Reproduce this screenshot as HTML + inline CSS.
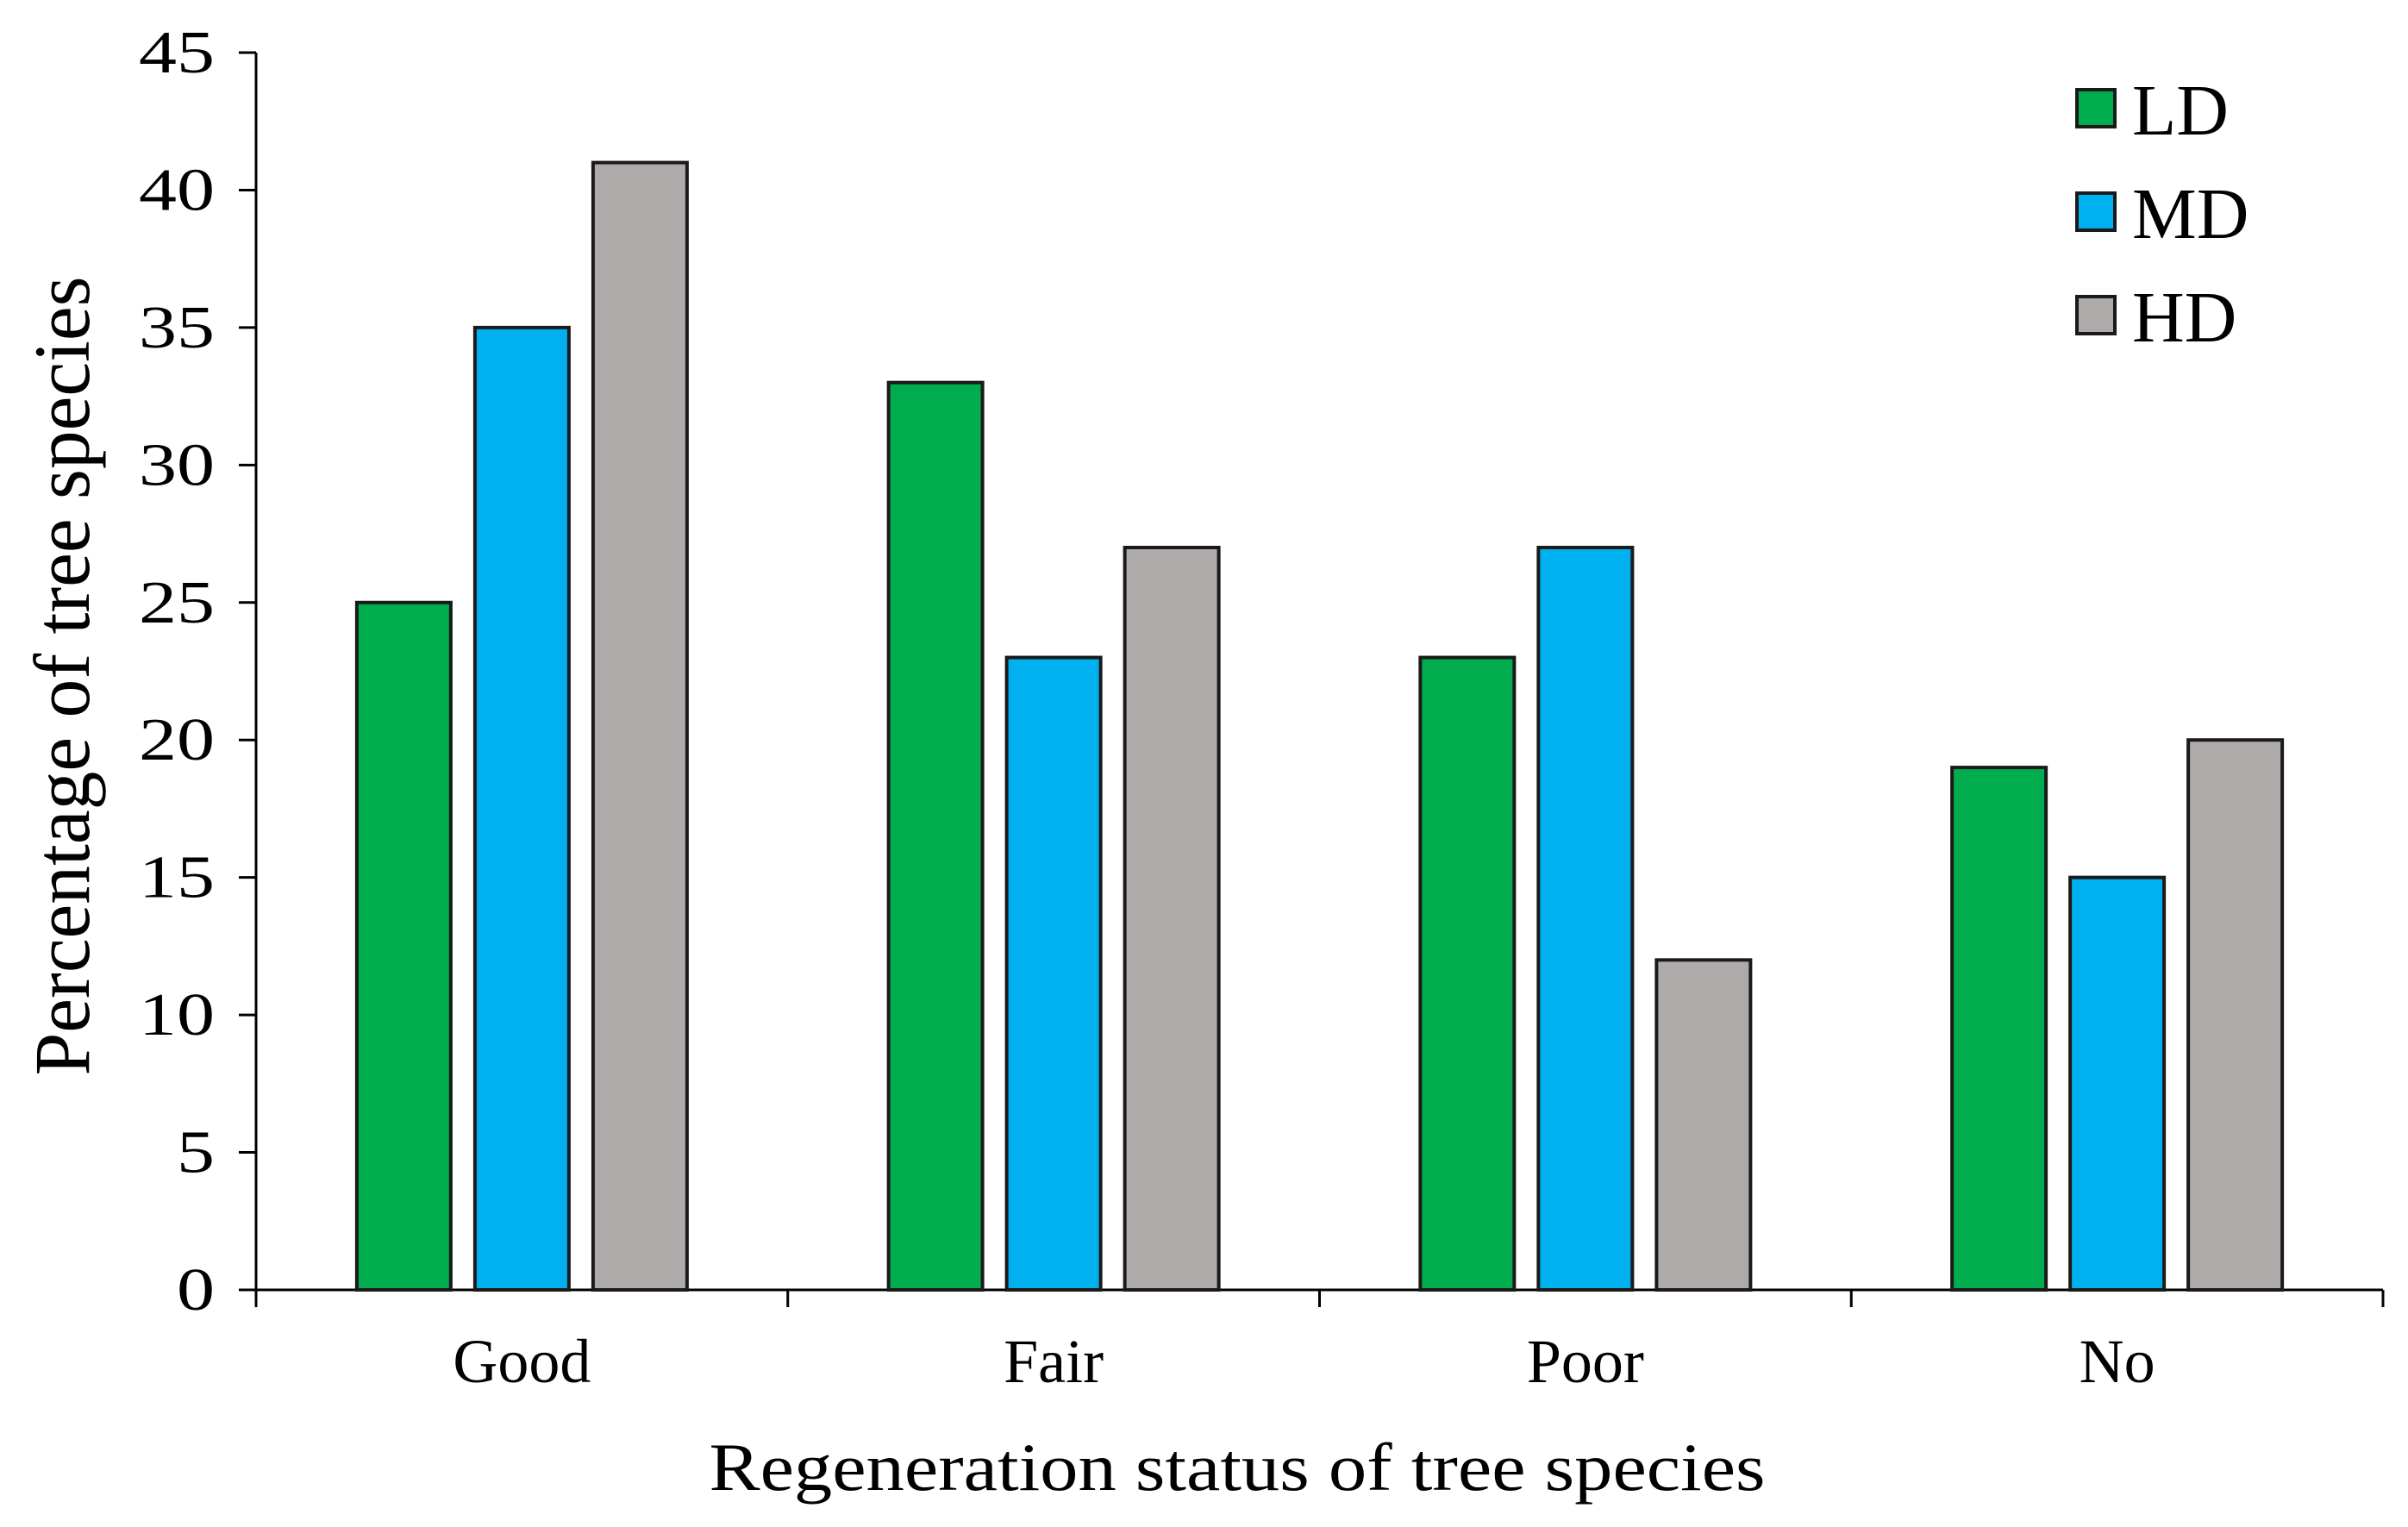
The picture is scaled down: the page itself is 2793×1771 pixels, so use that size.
<!DOCTYPE html>
<html><head><meta charset="utf-8"><style>
html,body{margin:0;padding:0;background:#fff}
svg{display:block}
text{font-family:"Liberation Serif",serif;fill:#000}
</style></head><body>
<svg id="chart" width="2793" height="1771" viewBox="0 0 2793 1771" xmlns="http://www.w3.org/2000/svg">
<g id="axes"></g>
<g id="bars"></g>
<g id="legend"></g>
<text transform="translate(103,784) rotate(-90)" text-anchor="middle" font-size="92" textLength="927" lengthAdjust="spacingAndGlyphs">Percentage of tree species</text>
<text x="1435" y="1728" text-anchor="middle" font-size="78" textLength="1225" lengthAdjust="spacingAndGlyphs">Regeneration status of tree species</text>
</svg>
<script>
const categories = ["Good","Fair","Poor","No"];
const seriesNames = ["LD","MD","HD"];
const ldValues = [25,33,23,19];
const mdValues = [35,23,27,15];
const hdValues = [41,27,12,20];
const yTicks = [0,5,10,15,20,25,30,35,40,45];

const NS="http://www.w3.org/2000/svg";
const colors=["#00AC4E","#00B0EF","#AEAAA9"];
const x0=297,x1=2764,y0=1496,yTop=61,yMax=45;
const yScale=v=>y0-(v/yMax)*(y0-yTop);
const bandW=(x1-x0)/categories.length;
const bandStart=i=>x0+i*bandW;
const barW=109,barStep=137;
function mk(tag,attrs,parent){const e=document.createElementNS(NS,tag);for(const k in attrs)e.setAttribute(k,attrs[k]);parent.appendChild(e);return e;}
const axes=document.getElementById('axes');
let l=mk('line',{x1:x0,y1:yTop,x2:x0,y2:y0,stroke:'#000','stroke-width':3},axes);


l=mk('line',{x1:x0,y1:y0,x2:x1,y2:y0,stroke:'#000','stroke-width':3},axes);


yTicks.forEach(t=>{
  const y=yScale(t);
  const tk=mk('line',{x1:x0-20,y1:y,x2:x0,y2:y,stroke:'#000','stroke-width':3},axes);
  
  
  const s=String(t);
  const tx=mk('text',{x:x0-48,y:y+23,'text-anchor':'end','font-size':70,textLength:s.length*44,lengthAdjust:'spacingAndGlyphs'},axes);
  tx.textContent=s;
  
  
});
for(let i=0;i<=categories.length;i++){
  const x=bandStart(i);
  const tk=mk('line',{x1:x,y1:y0,x2:x,y2:y0+20,stroke:'#000','stroke-width':3},axes);
  
  
}
categories.forEach((c,i)=>{
  const tx=mk('text',{x:bandStart(i)+bandW/2,y:1603,'text-anchor':'middle','font-size':72},axes);
  tx.textContent=c;
  
  
});
const bars=document.getElementById('bars');
const all=[ldValues,mdValues,hdValues];
categories.forEach((c,i)=>{
  const cx=bandStart(i)+bandW/2;
  all.forEach((vals,s)=>{
    const bx=cx+(s-1)*barStep-barW/2;
    const y=yScale(vals[i]);
    const r=mk('rect',{x:bx,y:y,width:barW,height:y0-y,fill:colors[s],stroke:'#1a1a1a','stroke-width':4},bars);
    
    
  });
});
const legend=document.getElementById('legend');
seriesNames.forEach((n,s)=>{
  const y=104+s*120;
  const r=mk('rect',{x:2409,y:y,width:44,height:43,fill:colors[s],stroke:'#1a1a1a','stroke-width':4},legend);
  
  
  const t=mk('text',{x:2473,y:y+52,'font-size':84},legend);
  t.textContent=n;
  
  
});
</script>
</body></html>
